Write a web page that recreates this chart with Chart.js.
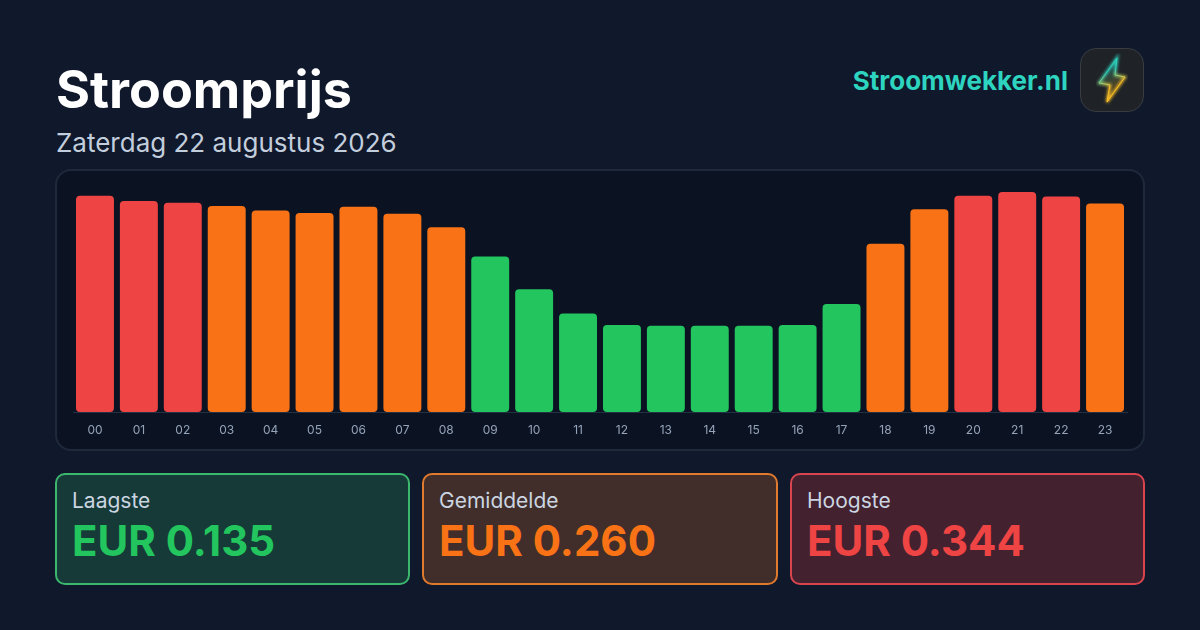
<!DOCTYPE html>
<html>
<head>
<meta charset="utf-8">
<title>Stroomprijs</title>
<script src="https://cdn.jsdelivr.net/npm/chart.js@4"></script>
<style>
    * { box-sizing: border-box; margin: 0; padding: 0; }
    html, body { width: 1200px; height: 630px; overflow: hidden; }
    body {
        position: relative;
        font-family: Inter, sans-serif;
        background: #10182c;
        color: #fff;
    }
    h1 { position: absolute; left: 56px; top: 58px; font-size: 52px; line-height: 63px; font-weight: 700; }
    .date { position: absolute; left: 56px; top: 126px; font-size: 26px; line-height: 33px; color: #c3cedc; }
    .brand { position: absolute; right: 132px; top: 64px; font-size: 26px; line-height: 33px; font-weight: 700; color: #2dd4bf; }
    .logo {
        position: absolute; left: 1080px; top: 48px; width: 64px; height: 64px;
        border-radius: 16px; background: #1f2327; border: 1px solid #383c42;
    }
    .panel {
        position: absolute; left: 55px; top: 169px; width: 1090px; height: 282px;
        border-radius: 16px; background: #0b1323; border: 2px solid #1e293b;
    }
    #priceChart { position: absolute; left: 56px; top: 170px; }
    .card {
        position: absolute; top: 473px; width: 355px; height: 112px;
        border-radius: 10px; border: 2px solid; padding: 13px 15px;
    }
    .card .label { line-height: 26px; color: #cbd5e1; font-size: 21px; }
    .card .value { font-size: 42px; line-height: 50px; font-weight: 700; margin-top: 2px; }
    .low { left: 55px; border-color: #3cb76e; background: #163a37; color: #22c55e; }
    .avg { left: 422px; width: 356px; border-color: #e07a2d; background: #412e2a; color: #f97316; }
    .high { left: 790px; border-color: #d9454f; background: #43212f; color: #ef4444; }
</style>
</head>
<body>
<h1>Stroomprijs</h1>
<div class="date">Zaterdag 22 augustus 2026</div>
<div class="brand">Stroomwekker.nl</div>
<div class="logo">
    <svg width="62" height="62" viewBox="0 0 62 62">
        <defs>
            <linearGradient id="bolt" x1="0.3" y1="0" x2="0.6" y2="1">
                <stop offset="0.3" stop-color="#2dd4bf"/>
                <stop offset="0.65" stop-color="#fbbf24"/>
            </linearGradient>
            <filter id="glow"><feGaussianBlur stdDeviation="1.4"/></filter>
        </defs>
        <path d="M36 9 L18 34 L29 36 L26 53 L44 28 L34 26 Z" fill="none" stroke="url(#bolt)" stroke-width="2.5" filter="url(#glow)"/>
        <path d="M36 9 L18 34 L29 36 L26 53 L44 28 L34 26 Z" fill="url(#bolt)" fill-opacity="0.2" stroke="url(#bolt)" stroke-width="1"/>
    </svg>
</div>
<div class="panel"></div>
<canvas id="priceChart" width="1088" height="280" style="width:1088px;height:280px"></canvas>
<div class="card low"><div class="label">Laagste</div><div class="value">EUR 0.135</div></div>
<div class="card avg"><div class="label">Gemiddelde</div><div class="value">EUR 0.260</div></div>
<div class="card high"><div class="label">Hoogste</div><div class="value">EUR 0.344</div></div>

<script>
const hours = ['00', '01', '02', '03', '04', '05', '06', '07', '08', '09', '10', '11',
    '12', '13', '14', '15', '16', '17', '18', '19', '20', '21', '22', '23'];
const prices = [0.338, 0.330, 0.327, 0.322, 0.315, 0.311, 0.321, 0.310, 0.289, 0.243, 0.192, 0.154,
    0.136, 0.135, 0.135, 0.135, 0.136, 0.169, 0.263, 0.317, 0.338, 0.344, 0.337, 0.326];
const levels = ['high', 'high', 'high', 'mid', 'mid', 'mid', 'mid', 'mid', 'mid', 'low', 'low', 'low',
    'low', 'low', 'low', 'low', 'low', 'low', 'mid', 'mid', 'high', 'high', 'high', 'mid'];
const levelColors = { low: '#22c55e', mid: '#f97316', high: '#ef4444' };

function chartConfig() {
    return {
        type: 'bar',
        data: {
            labels: hours,
            datasets: [{
                data: prices,
                backgroundColor: levels.map(level => levelColors[level]),
                borderRadius: 4,
                borderSkipped: false,
                categoryPercentage: 1,
                barPercentage: 0.864,
            }]
        },
        options: {
            responsive: false,
            animation: false,
            layout: { padding: { left: 17, right: 17, top: 22, bottom: 0 } },
            plugins: {
                legend: { display: false },
                tooltip: { enabled: false }
            },
            scales: {
                y: { display: false, min: 0, max: 0.344 },
                x: {
                    afterFit: scale => { scale.height = 38; },
                    grid: { display: false, drawTicks: false },
                    border: { color: '#243044', width: 1 },
                    ticks: {
                        color: '#94a3b8',
                        font: { family: 'Inter', size: 12 },
                        padding: 11,
                        maxRotation: 0,
                        autoSkip: false
                    }
                }
            }
        }
    };
}

new Chart(document.getElementById('priceChart').getContext('2d'), chartConfig());
</script>
</body>
</html>
